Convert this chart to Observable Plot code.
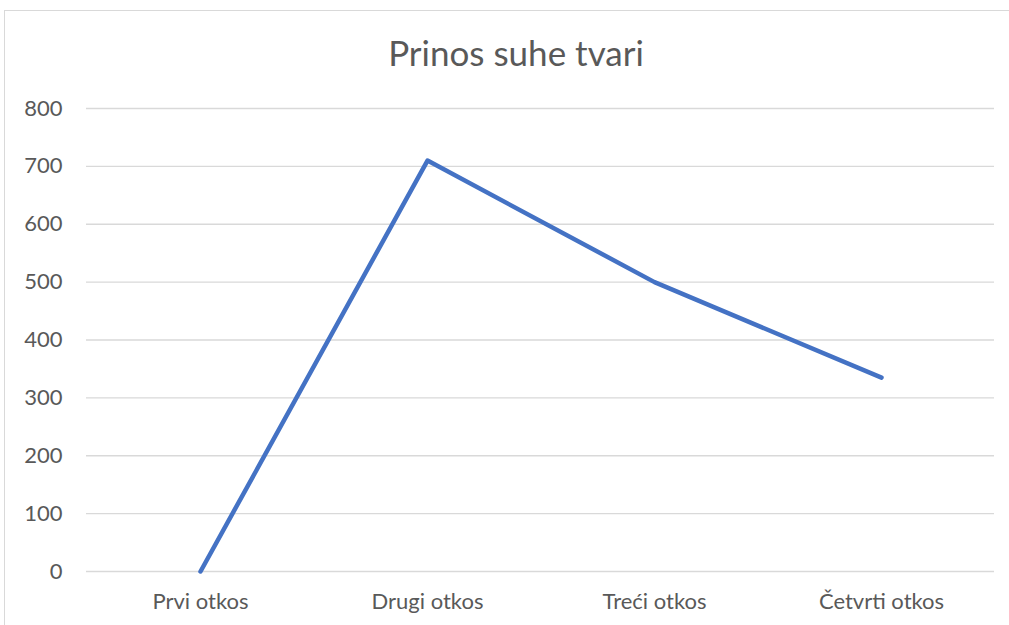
<!DOCTYPE html>
<html>
<head>
<meta charset="utf-8">
<script src="https://cdn.jsdelivr.net/npm/d3@7"></script>
<script src="https://cdn.jsdelivr.net/npm/@observablehq/plot@0.6"></script>
<style>
  html, body { margin: 0; padding: 0; background: #fff; }
  #wrap { position: relative; width: 1009px; height: 625px; overflow: hidden; font-family: Lato, "Open Sans", sans-serif; }
  #frame { position: absolute; left: 4px; top: 10px; width: 1100px; height: 700px; border: 1px solid #d9d9d9; box-sizing: border-box; }
  #title { position: absolute; left: 0; width: 1032px; top: 32px; text-align: center; font-size: 35px; color: #595959; line-height: 40px; }
  #chart { position: absolute; left: 0; top: 0; }
</style>
</head>
<body>
<div id="wrap">
  <div id="frame"></div>
  <div id="title">Prinos suhe tvari</div>
  <div id="chart"></div>
</div>
<script>
const categories = ["Prvi otkos", "Drugi otkos", "Treći otkos", "Četvrti otkos"];
const values = [0, 710, 500, 335];
const yTicks = [0, 100, 200, 300, 400, 500, 600, 700, 800];

const data = categories.map((c, i) => ({cat: c, val: values[i]}));

const chart = Plot.plot({
  width: 1009,
  height: 625,
  marginTop: 108,
  marginBottom: 54,
  marginLeft: 86,
  marginRight: 15,
  style: {fontFamily: "Lato, 'Open Sans', sans-serif", fontSize: "22px", color: "#595959", background: "transparent"},
  x: {type: "point", domain: categories, padding: 0.5},
  y: {domain: [0, 800]},
  marks: [
    Plot.gridY(yTicks, {stroke: "#d9d9d9", strokeOpacity: 1, strokeWidth: 1.3}),
    Plot.axisY(yTicks, {tickSize: 0, tickPadding: 24, label: null, fill: "#595959", fontSize: 22}),
    Plot.axisX({tickSize: 0, tickPadding: 22, label: null, fill: "#595959", fontSize: 22}),
    Plot.line(data, {x: "cat", y: "val", stroke: "#4472C4", strokeWidth: 4.5, strokeLinecap: "round", strokeLinejoin: "round"})
  ]
});
document.getElementById("chart").appendChild(chart);
</script>
</body>
</html>
